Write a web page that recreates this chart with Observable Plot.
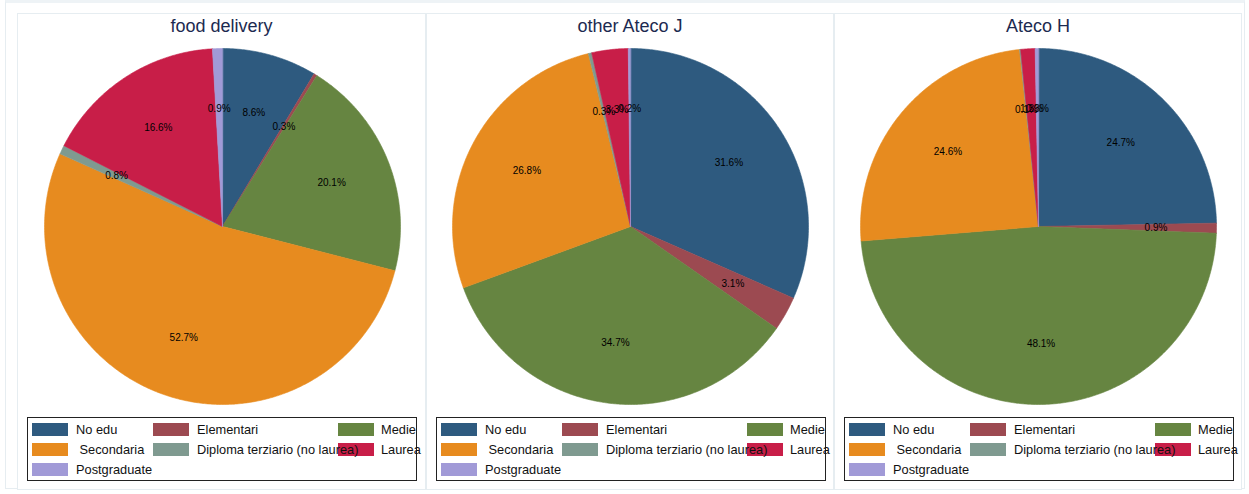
<!DOCTYPE html>
<html>
<head>
<meta charset="utf-8">
<script src="https://cdn.jsdelivr.net/npm/d3@7"></script>
<script src="https://cdn.jsdelivr.net/npm/@observablehq/plot@0.6"></script>
<style>
  html, body { margin: 0; padding: 0; background: #fff; }
  #root { position: relative; width: 1249px; height: 494px; overflow: hidden; font-family: "Liberation Sans", Arial, sans-serif; }
  .outer { position: absolute; left: 5px; top: 0px; width: 1240px; height: 489px; border: 1px solid #e6edf1; border-top: 3px solid #eef3f6; box-sizing: border-box; }
  .panel { position: absolute; top: 13px; height: 477px; border: 1px solid #e6edf1; box-sizing: border-box; background: #fff; }
  .title { position: absolute; top: 2px; left: 0; right: 0; text-align: center; font-size: 18px; color: #1c2a50; }
  .pie { position: absolute; top: 26px; }
  .legend { position: absolute; left: 9px; top: 403px; width: 390px; height: 64px; border: 1px solid #222; box-sizing: border-box; overflow: visible; }
  .sw { position: absolute; width: 36px; height: 13px; }
  .lab { position: absolute; font-size: 12.8px; color: #111; white-space: pre; line-height: 13px; }
</style>
</head>
<body>
<div id="root"><div class="outer"></div></div>
<script>
// ---- data ----
const categories = ["No edu", "Elementari", "Medie", "Secondaria", "Diploma terziario (no laurea)", "Laurea", "Postgraduate"];
const legendLabels = ["No edu", "Elementari", "Medie", " Secondaria", "Diploma terziario (no laurea)", "Laurea", "Postgraduate"];
const colors = ["#2e5a7f", "#9c4a51", "#668541", "#e78b1f", "#7f9a90", "#c81e48", "#a19ad7"];
const panelTitles = ["food delivery", "other Ateco J", "Ateco H"];
const foodDelivery = [8.6, 0.3, 20.1, 52.7, 0.8, 16.6, 0.9];
const otherAtecoJ = [31.6, 3.1, 34.7, 26.8, 0.3, 3.3, 0.2];
const atecoH = [24.7, 0.9, 48.1, 24.6, 0.1, 1.3, 0.3];
const panelValues = [foodDelivery, otherAtecoJ, atecoH];

// ---- layout ----
const panelLefts = [17, 426, 834];
const panelWidths = [409, 408, 408];
const root = document.getElementById("root");

function slices(values) {
  const total = d3.sum(values);
  const polys = [], labels = [];
  let cum = 0;
  values.forEach((v, i) => {
    const a0 = cum / total * 2 * Math.PI;
    cum += v;
    const a1 = cum / total * 2 * Math.PI;
    const n = Math.max(2, Math.ceil((a1 - a0) / (Math.PI / 360)));
    polys.push({cat: categories[i], x: 0, y: 0, k: 0});
    for (let j = 0; j <= n; j++) {
      const a = a0 + (a1 - a0) * j / n;
      polys.push({cat: categories[i], x: Math.sin(a), y: Math.cos(a), k: j + 1});
    }
    const am = (a0 + a1) / 2;
    labels.push({cat: categories[i], x: 0.66 * Math.sin(am), y: 0.66 * Math.cos(am), text: v.toFixed(1) + "%"});
  });
  return {polys, labels};
}

panelValues.forEach((values, p) => {
  const panel = document.createElement("div");
  panel.className = "panel";
  panel.style.left = panelLefts[p] + "px";
  panel.style.width = panelWidths[p] + "px";
  root.appendChild(panel);

  const title = document.createElement("div");
  title.className = "title";
  title.textContent = panelTitles[p];
  panel.appendChild(title);

  const {polys, labels} = slices(values);
  const size = 372;
  const chart = Plot.plot({
    width: size,
    height: size,
    margin: 8,
    style: {background: "transparent", fontFamily: "'Liberation Sans', Arial, sans-serif"},
    x: {domain: [-1, 1], axis: null},
    y: {domain: [-1, 1], axis: null},
    color: {domain: categories, range: colors},
    marks: [
      Plot.line(polys, {x: "x", y: "y", z: "cat", fill: "cat", stroke: "cat", strokeWidth: 0.6, curve: "linear-closed"}),
      Plot.text(labels, {x: "x", y: "y", text: "text", fontSize: 10, fill: "#000"})
    ]
  });
  const holder = document.createElement("div");
  holder.className = "pie";
  holder.style.left = (panelWidths[p] / 2 - size / 2 - 1) + "px";
  holder.appendChild(chart);
  panel.appendChild(holder);

  // legend
  const leg = document.createElement("div");
  leg.className = "legend";
  panel.appendChild(leg);
  const colSw = [4, 125, 310];
  const colLab = [48, 169, 353];
  const rowTop = [5, 25, 45];
  categories.forEach((c, i) => {
    const r = Math.floor(i / 3), k = i % 3;
    const sw = document.createElement("div");
    sw.className = "sw";
    sw.style.left = colSw[k] + "px";
    sw.style.top = rowTop[r] + "px";
    sw.style.background = colors[i];
    leg.appendChild(sw);
  });
  categories.forEach((c, i) => {
    const r = Math.floor(i / 3), k = i % 3;
    const lab = document.createElement("div");
    lab.className = "lab";
    lab.style.left = colLab[k] + "px";
    lab.style.top = rowTop[r] + "px";
    lab.textContent = legendLabels[i];
    leg.appendChild(lab);
  });
});
</script>
</body>
</html>
